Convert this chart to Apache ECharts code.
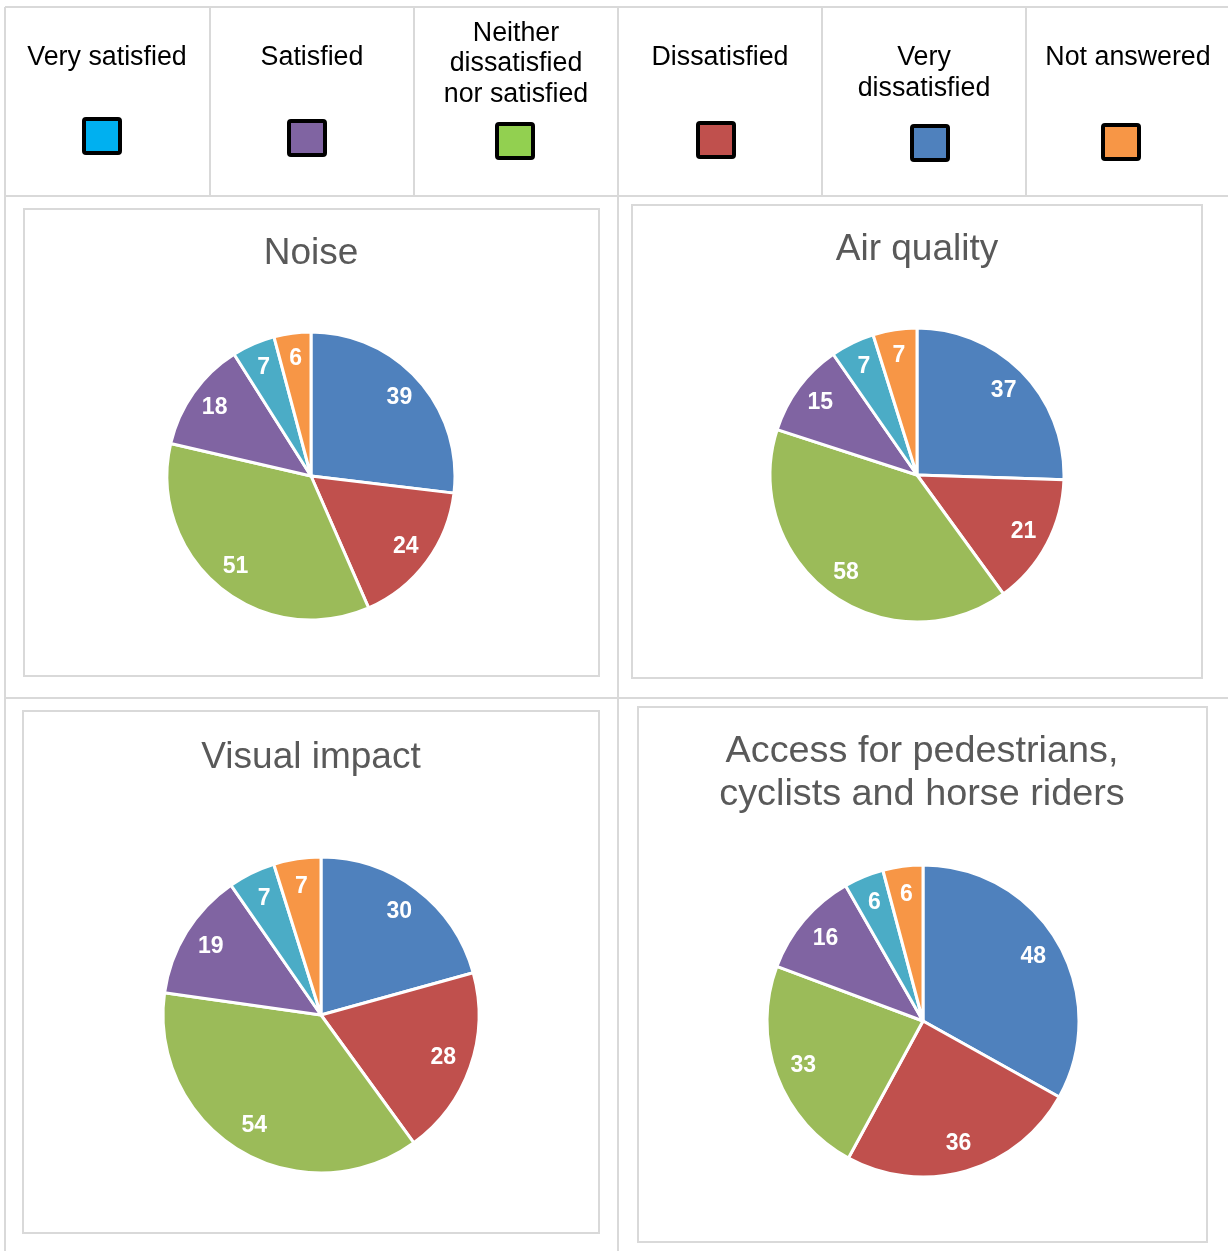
<!DOCTYPE html>
<html>
<head>
<meta charset="utf-8">
<title>Satisfaction</title>
<script src="https://cdn.jsdelivr.net/npm/echarts@6/dist/echarts.min.js"></script>
<style>
html, body { margin: 0; padding: 0; background: #fff; }
#main { width: 1228px; height: 1251px; }
</style>
</head>
<body>
<div id="main"></div>
<script>
// legend categories (top table)
var legendNames = ['Very satisfied', 'Satisfied', 'Neither\ndissatisfied\nnor satisfied', 'Dissatisfied', 'Very\ndissatisfied', 'Not answered'];
var legendColors = ['#00B0F0', '#8064A2', '#92D050', '#C0504D', '#4F81BD', '#F79646'];

// pie titles and values (clockwise from 12 o'clock)
var chartTitles = ['Noise', 'Air quality', 'Visual impact', 'Access for pedestrians,\ncyclists and horse riders'];
var noise = [39, 24, 51, 18, 7, 6];
var airQuality = [37, 21, 58, 15, 7, 7];
var visualImpact = [30, 28, 54, 19, 7, 7];
var access = [48, 36, 33, 16, 6, 6];

var sliceColors = ['#4F81BD', '#C0504D', '#9BBB59', '#8064A2', '#4BACC6', '#F79646'];
var FONT = '"Liberation Sans", Arial, sans-serif';

// layout of each panel
var panels = [
	{ values: noise, cx: 311, cy: 476, r: 144, titleTop: 232 },
	{ values: airQuality, cx: 917, cy: 475, r: 147, titleTop: 228 },
	{ values: visualImpact, cx: 321, cy: 1015, r: 158, titleTop: 736 },
	{ values: access, cx: 923, cy: 1021, r: 156, titleTop: 730 }
];
var titleX = [311, 917, 311, 922];

// legend cells layout
var legendTextX = [107, 312, 516, 720, 924, 1128];
var legendTextY = [58, 58, 64, 58, 73, 58];
var legendBoxX = [82, 287, 495, 696, 910, 1101];
var legendBoxY = [117, 119, 122, 121, 124, 123];

var myChart = echarts.init(document.getElementById('main'), null, { renderer: 'canvas' });

var series = [];
var titles = [];
panels.forEach(function (p, i) {
	var data = p.values.map(function (v, j) {
		return { value: v, name: legendNames[j], itemStyle: { color: sliceColors[j] } };
	});
	// slices
	series.push({
		type: 'pie',
		center: [p.cx, p.cy],
		radius: [0, p.r],
		startAngle: 90,
		clockwise: true,
		silent: true,
		data: data,
		itemStyle: { borderColor: '#fff', borderWidth: 3 },
		label: { show: false },
		labelLine: { show: false },
		emphasis: { disabled: true }
	});
	// value labels placed at ~0.8r using a transparent ring
	series.push({
		type: 'pie',
		center: [p.cx, p.cy],
		radius: [p.r * 0.6, p.r],
		startAngle: 90,
		clockwise: true,
		silent: true,
		z: 5,
		data: p.values.map(function (v) { return { value: v }; }),
		itemStyle: { color: 'rgba(0,0,0,0)', borderWidth: 0 },
		label: {
			show: true,
			position: 'inside',
			formatter: '{c}',
			color: '#fff',
			fontFamily: FONT,
			fontWeight: 'bold',
			fontSize: 23
		},
		labelLine: { show: false },
		emphasis: { disabled: true }
	});
	titles.push({
		text: chartTitles[i],
		left: titleX[i],
		top: p.titleTop,
		textAlign: 'center',
		padding: 0,
		textStyle: {
			fontFamily: FONT,
			fontWeight: 'normal',
			fontSize: i === 3 ? 37.8 : 37,
			lineHeight: 43,
			color: '#595959'
		}
	});
});

// table grid lines and panel boxes
var gridColor = '#d9d9d9';
function line(x1, y1, x2, y2) {
	return { type: 'line', silent: true, shape: { x1: x1, y1: y1, x2: x2, y2: y2 }, style: { stroke: gridColor, lineWidth: 2 } };
}
function box(x1, y1, x2, y2) {
	return { type: 'rect', silent: true, shape: { x: x1, y: y1, width: x2 - x1, height: y2 - y1 }, style: { fill: 'none', stroke: gridColor, lineWidth: 2 } };
}
var graphics = [
	line(5, 7, 1228, 7),
	line(5, 196, 1228, 196),
	line(5, 698, 1228, 698),
	line(5, 7, 5, 1251),
	line(618, 7, 618, 1251),
	line(210, 7, 210, 196),
	line(414, 7, 414, 196),
	line(822, 7, 822, 196),
	line(1026, 7, 1026, 196),
	box(24, 209, 599, 676),
	box(632, 205, 1202, 678),
	box(23, 711, 599, 1233),
	box(638, 707, 1207, 1242)
];

legendNames.forEach(function (name, i) {
	graphics.push({
		type: 'text',
		silent: true,
		style: {
			text: name,
			x: legendTextX[i],
			y: legendTextY[i],
			align: 'center',
			verticalAlign: 'middle',
			font: '26.8px ' + FONT,
			lineHeight: 30.5,
			fill: '#000'
		}
	});
	graphics.push({
		type: 'rect',
		silent: true,
		shape: { x: legendBoxX[i] + 2, y: legendBoxY[i] + 2, width: 36, height: 34, r: 2 },
		style: { fill: legendColors[i], stroke: '#000', lineWidth: 4 }
	});
});

myChart.setOption({
	animation: false,
	backgroundColor: '#fff',
	title: titles,
	graphic: graphics,
	series: series
});
</script>
</body>
</html>
